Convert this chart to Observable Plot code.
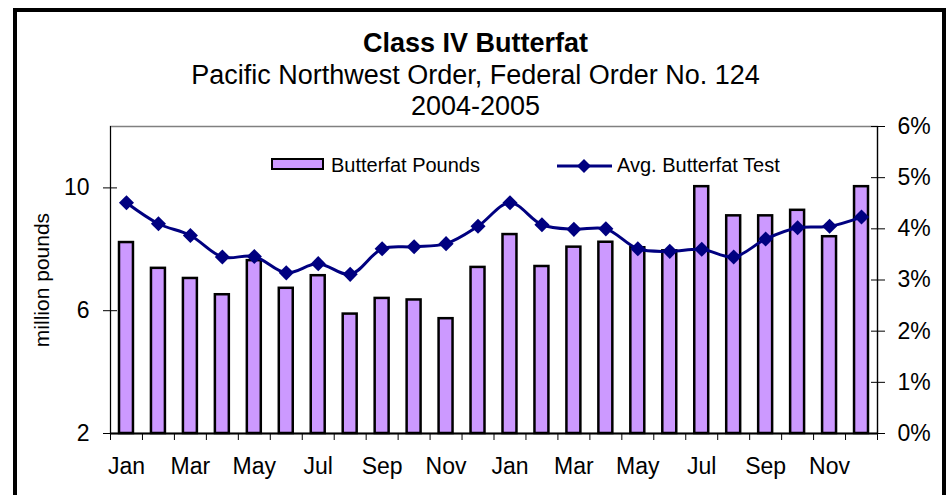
<!DOCTYPE html>
<html><head><meta charset="utf-8">
<script src="https://cdn.jsdelivr.net/npm/d3@7"></script>
<script src="https://cdn.jsdelivr.net/npm/@observablehq/plot@0.6"></script>
<style>
html,body{margin:0;padding:0;background:#fff;overflow:hidden;}
#wrap{position:relative;width:951px;height:495px;overflow:hidden;font-family:"Liberation Sans",Arial,sans-serif;color:#000;}
#border{position:absolute;left:13px;top:8px;width:925px;height:600px;border:4px solid #000;}
.t{position:absolute;left:0;width:951px;text-align:center;line-height:32px;font-size:27px;white-space:nowrap;}
#chart{position:absolute;left:0;top:115px;}
.leg{position:absolute;font-size:20px;line-height:20px;white-space:nowrap;}
#sw1{position:absolute;left:271px;top:158px;width:53px;height:12px;box-sizing:border-box;border:2px solid #000;background:#CC99FF;}
#sw2{position:absolute;left:556px;top:157px;}
</style></head>
<body>
<div id="wrap">
  <div id="border"></div>
  <div class="t" style="top:27px;font-weight:bold;" id="title"></div>
  <div class="t" style="top:59px;" id="subtitle"></div>
  <div class="t" style="top:90px;" id="years"></div>
  <div id="chart"></div>
  <div id="sw1"></div>
  <div class="leg" id="leg1" style="left:331px;top:155px;"></div>
  <svg id="sw2" width="58" height="18"><line x1="1" y1="9" x2="56" y2="9" stroke="#000080" stroke-width="3"/><path d="M28,2 L35,9 L28,16 L21,9 Z" fill="#000080"/></svg>
  <div class="leg" id="leg2" style="left:617px;top:155px;"></div>
</div>
<script>
const titleText = "Class IV Butterfat";
const subtitleText = "Pacific Northwest Order, Federal Order No. 124";
const yearsText = "2004-2005";
const seriesNames = ["Butterfat Pounds", "Avg. Butterfat Test"];
const yLabel = "million pounds";

const months = ["Jan","Feb","Mar","Apr","May","Jun","Jul","Aug","Sep","Oct","Nov","Dec",
                "Jan","Feb","Mar","Apr","May","Jun","Jul","Aug","Sep","Oct","Nov","Dec"];
// million pounds (left axis)
const pounds = [8.22,7.38,7.05,6.52,7.63,6.73,7.14,5.89,6.40,6.35,5.74,7.41,
                8.48,7.44,8.07,8.23,8.05,7.95,10.04,9.09,9.09,9.27,8.41,10.04];
// average butterfat test, percent (right axis)
const testPct = [4.51,4.10,3.87,3.45,3.46,3.14,3.32,3.11,3.61,3.65,3.71,4.05,
                 4.51,4.08,3.99,4.00,3.61,3.56,3.60,3.45,3.80,4.02,4.05,4.23];
const leftTicks = [2,6,10];
const rightTicks = [0,1,2,3,4,5,6];
const yMin = 2, yMax = 12, pctMax = 6;

document.getElementById("title").textContent = titleText;
document.getElementById("subtitle").textContent = subtitleText;
document.getElementById("years").textContent = yearsText;
document.getElementById("leg1").textContent = seriesNames[0];
document.getElementById("leg2").textContent = seriesNames[1];

const toLeft = p => yMin + p * (yMax - yMin) / pctMax;
const toPct = v => (v - yMin) * pctMax / (yMax - yMin);
const data = months.map((m, i) => ({i, m, pounds: pounds[i], pct: testPct[i]}));

const plot = Plot.plot({
  width: 951, height: 380,
  marginTop: 11, marginBottom: 62, marginLeft: 110, marginRight: 74,
  style: {fontFamily: "Liberation Sans, Arial, sans-serif", fontSize: "23px", color: "#000", background: "transparent", overflow: "visible"},
  x: {type: "linear", domain: [0, months.length]},
  y: {domain: [yMin, yMax]},
  marks: [
    Plot.frame({stroke: "#808080", strokeWidth: 1.5}),
    Plot.rect(data, {x1: d => d.i, x2: d => d.i + 1, y1: yMin, y2: "pounds", insetLeft: 9, insetRight: 9,
                     fill: "#CC99FF", stroke: "#000", strokeWidth: 2.5}),
    Plot.line(data, {x: d => d.i + 0.5, y: d => toLeft(d.pct), stroke: "#000080", strokeWidth: 3, curve: "catmull-rom"}),
    Plot.dot(data, {x: d => d.i + 0.5, y: d => toLeft(d.pct), symbol: "diamond2", r: 6.8, fill: "#000080", stroke: "none"}),
    Plot.ruleX([0], {stroke: "#000", strokeWidth: 1}),
    Plot.ruleX([months.length], {stroke: "#000", strokeWidth: 1.2}),
    Plot.axisY({ticks: leftTicks, anchor: "left", tickSize: 7, tickPadding: 14, tickFormat: d => String(d),
                label: yLabel, labelAnchor: "center", labelOffset: 76, labelArrow: "none", fontSize: 21}),
    Plot.axisY({ticks: leftTicks, anchor: "left", tickSize: -7, tickFormat: () => "", label: null}),
    Plot.axisY({ticks: rightTicks.map(toLeft), anchor: "right", tickSize: 7, tickPadding: 13,
                tickFormat: d => Math.round(toPct(d)) + "%", label: null}),
    Plot.axisY({ticks: rightTicks.map(toLeft), anchor: "right", tickSize: -7, tickFormat: () => "", label: null}),
    Plot.axisX({ticks: d3.range(months.length + 1), anchor: "bottom", tickSize: 7, tickFormat: () => "", label: null}),
    Plot.axisX({ticks: d3.range(0, months.length, 2).map(i => i + 0.5), anchor: "bottom", tickSize: 0, tickPadding: 24,
                tickFormat: d => months[Math.floor(d)], label: null}),
    Plot.ruleY([yMin], {stroke: "#000", strokeWidth: 2})
  ]
});
document.getElementById("chart").appendChild(plot);
// left tick numbers are 23px; the axis title is 21px
d3.select(plot).selectAll("g[aria-label='y-axis tick label'] text").style("font-size", "23px");
</script>
</body></html>
